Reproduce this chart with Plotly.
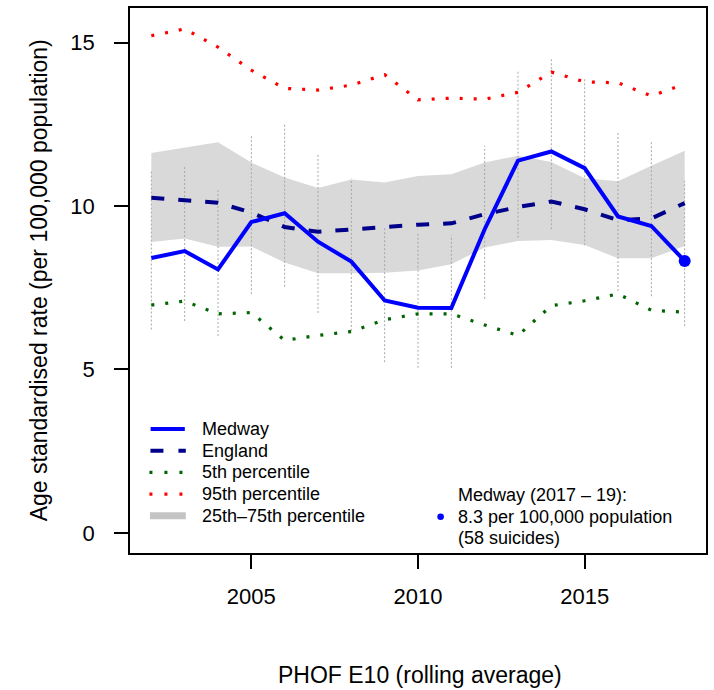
import plotly.graph_objects as go

# ---------------- data ----------------
years = list(range(2002, 2019))
medway = [8.41, 8.62, 8.06, 9.51, 9.78, 8.91, 8.30, 7.11, 6.89, 6.88, 9.29, 11.39, 11.67, 11.16, 9.68, 9.39, 8.32]
england = [10.25, 10.18, 10.10, 9.80, 9.36, 9.21, 9.29, 9.37, 9.43, 9.47, 9.75, 9.97, 10.14, 9.90, 9.57, 9.62, 10.09]
p5 = [6.97, 7.09, 6.70, 6.74, 5.89, 6.04, 6.16, 6.52, 6.70, 6.70, 6.36, 6.04, 6.95, 7.10, 7.31, 6.81, 6.75]
p95 = [15.21, 15.42, 14.86, 14.16, 13.60, 13.55, 13.70, 14.02, 13.25, 13.30, 13.27, 13.48, 14.10, 13.80, 13.77, 13.37, 13.73]
p25 = [8.90, 9.01, 8.75, 8.76, 8.27, 7.94, 7.94, 7.96, 8.03, 8.22, 8.73, 8.93, 8.96, 8.81, 8.40, 8.40, 8.78]
p75 = [11.62, 11.79, 11.95, 11.33, 10.87, 10.55, 10.81, 10.72, 10.92, 10.97, 11.33, 11.54, 11.35, 10.85, 10.76, 11.23, 11.69]
ci_lo = [6.22, 6.48, 6.02, 7.30, 7.53, 6.73, 6.18, 5.22, 5.05, 5.05, 7.16, 9.03, 9.29, 8.80, 7.40, 7.24, 6.32]
ci_hi = [11.08, 11.25, 10.51, 12.15, 12.49, 11.57, 10.84, 9.38, 9.19, 9.11, 11.84, 14.17, 14.50, 13.92, 12.28, 11.98, 10.77]

x_ticks = [2005, 2010, 2015]
y_ticks = [0, 5, 10, 15]
legend_labels = ["Medway", "England", "5th percentile", "95th percentile", "25th\u201375th percentile"]
latest_lines = ["Medway (2017 \u2013 19):", "8.3 per 100,000 population", "(58 suicides)"]
x_title = "PHOF E10 (rolling average)"
y_title = "Age standardised rate (per 100,000 population)"

FONT = "Liberation Sans, Arial, Helvetica, sans-serif"
W, H = 714, 690
L, R, T, B = 130, 6, 8, 137
PW, PH = W - L - R, H - T - B

def px(x):
    return (x - L) / PW

def py(y):
    return (H - B - y) / PH

fig = go.Figure()

# 25th-75th band
fig.add_trace(go.Scatter(
    x=years + years[::-1], y=p75 + p25[::-1], fill="toself",
    fillcolor="#D9D9D9", line=dict(width=0), mode="lines",
    hoverinfo="skip", showlegend=False))

# Medway confidence intervals (vertical dotted grey)
cx, cy = [], []
for yr, lo, hi in zip(years, ci_lo, ci_hi):
    cx += [yr, yr, None]
    cy += [lo, hi, None]
fig.add_trace(go.Scatter(x=cx, y=cy, mode="lines",
                         line=dict(color="#A6A6A6", width=1, dash="2px,2px"),
                         showlegend=False, hoverinfo="skip"))

# percentiles
fig.add_trace(go.Scatter(x=years, y=p5, mode="lines",
                         line=dict(color="#006400", width=3.2, dash="3px,11px"),
                         showlegend=False))
fig.add_trace(go.Scatter(x=years, y=p95, mode="lines",
                         line=dict(color="#FF0000", width=3.2, dash="3px,11px"),
                         showlegend=False))
# England
fig.add_trace(go.Scatter(x=years, y=england, mode="lines",
                         line=dict(color="#00008B", width=4, dash="13px,14px"),
                         showlegend=False))
# Medway
fig.add_trace(go.Scatter(x=years, y=medway, mode="lines",
                         line=dict(color="#0000FF", width=4),
                         showlegend=False))
fig.add_trace(go.Scatter(x=[years[-1]], y=[medway[-1]], mode="markers",
                         marker=dict(color="#0000FF", size=12),
                         showlegend=False))

axis_common = dict(showgrid=False, zeroline=False, showline=True, mirror=True,
                   linecolor="black", linewidth=1.5, ticks="outside", ticklen=14,
                   tickwidth=1.5, tickcolor="black",
                   tickfont=dict(family=FONT, size=22, color="black"))

fig.update_xaxes(range=[2001.36, 2018.64], tickvals=x_ticks,
                 ticktext=[str(v) for v in x_ticks], ticklabelstandoff=9,
                 **axis_common)
fig.update_yaxes(range=[-0.618, 16.06], tickvals=y_ticks,
                 ticktext=[str(v) for v in y_ticks], ticklabelstandoff=15,
                 **axis_common)

shapes = []
annotations = []

# legend (left block)
rows = [429, 450.7, 472.4, 494.1, 515.8]
sym = [
    dict(color="#0000FF", width=4),
    dict(color="#00008B", width=4, dash="13px,15px"),
    dict(color="#006400", width=3.2, dash="3px,12px"),
    dict(color="#FF0000", width=3.2, dash="3px,12px"),
    dict(color="#C4C4C4", width=7),
]
x0s = [150.7, 150.5, 149.5, 149.5, 150]
x1s = [185, 186, 183, 183, 186]
for r, s, a, b, lab in zip(rows, sym, x0s, x1s, legend_labels):
    shapes.append(dict(type="line", xref="paper", yref="paper",
                       x0=px(a), x1=px(b), y0=py(r), y1=py(r), line=s))
    annotations.append(dict(xref="paper", yref="paper", x=px(200), y=py(r),
                            xanchor="left", yanchor="middle", showarrow=False,
                            text=lab, font=dict(family=FONT, size=18, color="black")))

# right block
for r, lab in zip([495, 516.7, 538.4], latest_lines):
    annotations.append(dict(xref="paper", yref="paper", x=px(457.5), y=py(r),
                            xanchor="left", yanchor="middle", showarrow=False,
                            text=lab, font=dict(family=FONT, size=18, color="black")))
shapes.append(dict(type="circle", xref="paper", yref="paper",
                   xsizemode="pixel", ysizemode="pixel",
                   xanchor=px(441.7), yanchor=py(516.7),
                   x0=-3.3, x1=3.3, y0=-3.3, y1=3.3,
                   fillcolor="#0000FF", line=dict(width=0)))

# axis titles
annotations.append(dict(xref="paper", yref="paper", x=px(421.5), y=py(675),
                        xanchor="center", yanchor="middle", showarrow=False,
                        text=x_title, font=dict(family=FONT, size=23, color="black")))
annotations.append(dict(xref="paper", yref="paper", x=px(39), y=py(280),
                        xanchor="center", yanchor="middle", showarrow=False,
                        textangle=-90,
                        text=y_title, font=dict(family=FONT, size=23, color="black")))

fig.update_layout(width=W, height=H, margin=dict(l=L, r=R, t=T, b=B),
                  paper_bgcolor="white", plot_bgcolor="white",
                  showlegend=False, shapes=shapes, annotations=annotations,
                  font=dict(family=FONT))

fig.write_html("out.html", config=dict(displayModeBar=False),
               post_script="document.body.style.margin='0';document.body.style.overflow='hidden';")
